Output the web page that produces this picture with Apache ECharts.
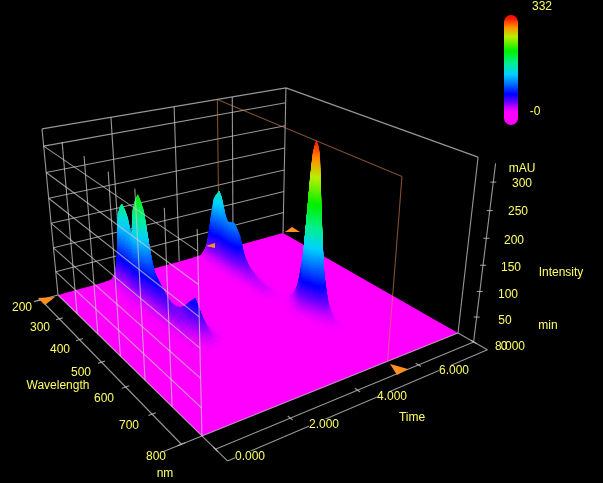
<!DOCTYPE html>
<html><head><meta charset="utf-8">
<style>html,body{margin:0;padding:0;background:#000}#c{width:603px;height:483px}</style>
<script src="https://cdn.jsdelivr.net/npm/echarts@6/dist/echarts.min.js"></script>
</head><body><div id="c"></div>
<script>
// ---------- data ----------
const timeTicks = [0, 2, 4, 6, 8];
const wavelengthTicks = [200, 300, 400, 500, 600, 700, 800];
const intensityTicks = [50, 100, 150, 200, 250, 300];
const intensityMax = 332;
const cursorTime = 5.47;

const times1 = [1.3,1.45,1.6,1.7,1.79,1.87,1.95,2.05,2.15,2.25,2.4,2.6,2.85];
const waves1 = [200,215,230,240,248,258,270,285,300,312,325,335,350,370,390,410,430,450,470,490,510,530,550,575];
const table1 = [
[0,0,0,2,7,8,7,5,3,2,1,0,0],
[0,0,2,10,32,35,31,21,12,7,2,1,0],
[0,1,6,30,92,100,90,60,35,20,7,2,0],
[0,2,10,50,154,168,151,101,59,34,11,3,0],
[0,2,10,53,161,175,158,105,62,35,12,3,0],
[0,2,10,50,154,168,150,101,58,34,11,3,0],
[0,1,7,37,112,122,110,73,43,24,9,2,0],
[0,1,8,38,118,128,115,77,45,26,9,3,0],
[0,1,8,41,124,135,122,81,47,27,9,3,0],
[0,2,12,59,184,200,179,120,70,40,14,4,0],
[0,2,13,65,199,216,194,130,76,43,15,4,0],
[0,2,13,63,191,207,187,124,72,41,14,4,0],
[0,1,7,36,110,120,108,72,42,24,8,2,0],
[0,1,5,26,78,85,77,51,30,17,6,2,0],
[0,1,4,21,64,70,63,43,26,15,5,1,0],
[0,1,3,16,50,55,50,35,22,13,4,1,0],
[0,0,3,12,38,42,39,30,25,16,5,1,0],
[0,0,2,10,32,36,34,30,30,20,7,1,0],
[0,0,2,8,26,30,31,34,42,30,11,2,0],
[0,0,1,7,22,27,32,45,58,41,15,3,0],
[0,0,1,5,16,20,27,50,72,50,18,4,0],
[0,0,0,3,8,10,17,32,46,33,12,3,0],
[0,0,0,1,3,4,8,16,24,18,7,2,0],
[0,0,0,0,0,0,0,0,0,0,0,0,0]];

const times2 = [4.5,4.65,4.78,4.87,4.94,5.0,5.07,5.17,5.29,5.42,5.57];
const waves2 = [200,215,230,245,260,275,290,305,320,335,350,370,390,410,430,450,470,490];
const table2 = [
[0,0,1,6,10,10,9,6,3,1,0],
[0,1,4,21,34,35,32,19,9,3,0],
[0,2,10,57,92,95,87,53,23,8,0],
[0,3,15,88,140,146,135,80,36,11,0],
[0,3,16,96,153,160,147,88,40,13,0],
[0,2,12,74,119,123,113,68,31,10,0],
[0,2,10,62,100,104,96,57,26,8,0],
[0,2,11,64,102,106,98,58,27,8,0],
[0,2,11,66,106,110,101,61,28,9,0],
[0,2,10,57,91,95,87,52,24,8,0],
[0,1,6,35,56,58,53,32,15,5,0],
[0,1,4,22,35,36,33,20,9,3,0],
[0,1,3,16,25,26,24,14,7,2,0],
[0,0,2,10,15,16,15,9,4,1,0],
[0,0,2,9,15,16,14,9,4,1,0],
[0,0,1,5,9,9,8,5,2,1,0],
[0,0,0,2,3,3,3,2,1,0,0],
[0,0,0,0,0,0,0,0,0,0,0]];

const times3 = [4.9,5.05,5.18,5.28,5.36,5.42,5.47,5.52,5.58,5.66,5.76,5.9,6.1];
const waves3 = [470,490,510,525,540,550,556,560,566,575,590,605,620,640,660];
const table3 = [
[0,0,0,0,0,0,0,0,0,0,0,0,0],
[0,0,1,2,4,5,5,5,4,2,1,0,0],
[0,0,2,7,16,21,22,21,16,7,2,0,0],
[0,1,6,17,40,53,55,53,39,16,5,1,0],
[0,3,14,42,101,134,140,135,100,41,14,3,0],
[0,5,27,81,194,259,270,260,195,80,27,5,0],
[0,6,32,97,232,309,322,310,231,96,32,6,0],
[0,7,33,100,239,319,332,318,240,99,33,7,0],
[0,6,32,96,231,310,323,309,232,97,32,6,0],
[0,5,24,72,173,230,240,231,172,71,24,5,0],
[0,2,11,33,79,106,110,105,80,33,11,2,0],
[0,1,5,15,36,48,50,48,36,15,5,1,0],
[0,0,2,5,13,17,18,17,13,5,2,0,0],
[0,0,0,1,4,5,5,5,4,1,0,0,0],
[0,0,0,0,0,0,0,0,0,0,0,0,0]];

const timeLabels = ['0.000','2.000','4.000','6.000','8.000'];
const waveLabels = ['200','300','400','500','600','700','800'];
const intensityLabels = ['50','100','150','200','250','300'];
const colorFractions = [0,.04,.1,.19,.3,.4,.52,.65,.8,.9,1];
const colorNames = ['#ff00ff','#d000ff','#7000ff','#0000ff','#0070ff','#00d0ff','#00f090','#00f000','#b8f000','#ff9000','#ff1000'];

// ---------- layout ----------
const blocks = [[times3,waves3,table3],[times2,waves2,table2],[times1,waves1,table1]];
const cam = {a:272.4,b:96.4,c:58,d:-23,e:38.3,f:295,g:.1674,h:-.2355,s:.0796,vx:243,vy:2216};
const GRAY='#c8c8c8', BROWN='#d28250', YEL='#ffff66';
function projUV(u,v,q){ const k=cam.s*q, w=cam.g*u+cam.h*v+1-k;
  return [(cam.a*u+cam.b*v+cam.c-k*cam.vx)/w,(cam.d*u+cam.e*v+cam.f-k*cam.vy)/w]; }
const U=t=>t/8, V=w=>(w-200)/600, Q=z=>z/intensityMax;
const rgb=c=>[parseInt(c.substr(1,2),16),parseInt(c.substr(3,2),16),parseInt(c.substr(5,2),16)];
const rgbs=colorNames.map(rgb);
function colorOf(fr){ fr=Math.max(0,Math.min(1,fr)); let i=0; while(i<colorFractions.length-2&&fr>colorFractions[i+1])i++;
  const m=(fr-colorFractions[i])/(colorFractions[i+1]-colorFractions[i]),A=rgbs[i],B=rgbs[i+1];
  return 'rgb('+Math.round(A[0]+(B[0]-A[0])*m)+','+Math.round(A[1]+(B[1]-A[1])*m)+','+Math.round(A[2]+(B[2]-A[2])*m)+')'; }

function line(api,p,q,color,op,w,z2){ const a=api.coord(p),b=api.coord(q);
  return {type:'line',z2:z2||0,shape:{x1:a[0],y1:a[1],x2:b[0],y2:b[1]},style:{stroke:color,opacity:op,lineWidth:w||1.1}}; }
function text(str,x,y,z2){ return {type:'text',z2:z2||10,style:{text:str,x:x,y:y,fill:YEL,font:'12px "Liberation Sans"',align:'center',verticalAlign:'middle',backgroundColor:'#000'}}; }
function text0(str,x,y,z2){ return {type:'text',z2:z2||10,style:{text:str,x:x,y:y,fill:YEL,font:'12px "Liberation Sans"',align:'center',verticalAlign:'middle'}}; }

function renderBack(p,api){ const ch=[]; const L=(a,b,op)=>ch.push(line(api,a,b,GRAY,op||.75));
  // wall at wavelength 200 and open wall at time 8
  L(projUV(0,0,1),projUV(1,0,1)); L(projUV(1,0,1),projUV(1,1,1));
  L(projUV(0,0,0),projUV(0,0,1)); L(projUV(1,0,0),projUV(1,0,1));
  L(projUV(1,1,0),projUV(1,1,1));
  timeTicks.slice(1,-1).forEach(t=>L(projUV(U(t),0,0),projUV(U(t),0,1)));
  intensityTicks.forEach(z=>L(projUV(0,0,Q(z)),projUV(1,0,Q(z))));
  ch.push(line(api,projUV(U(cursorTime),0,0),projUV(U(cursorTime),0,1),BROWN,.6));
  // floor
  const floor=[[0,0],[1,0],[1,1],[0,1]].map(c=>api.coord(projUV(c[0],c[1],0)));
  ch.push({type:'polygon',z2:1,shape:{points:floor},style:{fill:'#ff00ff'}});
  return {type:'group',children:ch};
}
const cells=[]; blocks.forEach((b,k)=>{ for(let j=0;j<b[1].length-1;j++) for(let i=b[0].length-2;i>=0;i--){
  const T=b[2]; if(T[j][i]+T[j][i+1]+T[j+1][i]+T[j+1][i+1]>0) cells.push([k,i,j]); }});
function renderCell(p,api){ const [T,W,Z]=blocks[api.value(0)],i=api.value(1),j=api.value(2);
  const z00=Z[j][i],z10=Z[j][i+1],z01=Z[j+1][i],z11=Z[j+1][i+1];
  const nt=Math.max(1,Math.min(14,Math.ceil(Math.max(Math.abs(z10-z00),Math.abs(z11-z01))/6)));
  const nw=Math.max(1,Math.min(14,Math.ceil(Math.max(Math.abs(z01-z00),Math.abs(z11-z10))/6)));
  const ch=[]; const zAt=(a,b)=>(z00*(1-a)+z10*a)*(1-b)+(z01*(1-a)+z11*a)*b;
  const pt=(a,b)=>api.coord(projUV(U(T[i]+(T[i+1]-T[i])*a),V(W[j]+(W[j+1]-W[j])*b),Q(zAt(a,b))));
  for(let y=0;y<nw;y++) for(let x=nt-1;x>=0;x--){
    const a0=x/nt,a1=(x+1)/nt,b0=y/nw,b1=(y+1)/nw;
    const c=colorOf(Q((zAt(a0,b0)+zAt(a1,b0)+zAt(a0,b1)+zAt(a1,b1))/4));
    ch.push({type:'polygon',z2:p.dataIndex+2,shape:{points:[pt(a0,b0),pt(a1,b0),pt(a1,b1),pt(a0,b1)]},style:{fill:c,stroke:c,lineWidth:.5}});
  }
  return {type:'group',children:ch};
}
function renderFront(p,api){ const ch=[]; const L=(a,b,op)=>ch.push(line(api,a,b,GRAY,op||.75));
  // open wall at time 0
  wavelengthTicks.slice(1).forEach(w=>L(projUV(0,V(w),0),projUV(0,V(w),1)));
  intensityTicks.forEach(z=>L(projUV(0,0,Q(z)),projUV(0,1,Q(z))));
  // floor borders and axes
  L(projUV(0,0,0),projUV(0,1,0)); L(projUV(0,1,0),projUV(1,1,0));
  const tv=1.07, ov=1.13, wu=-.065;
  L(projUV(0,tv,0),projUV(1,tv,0)); L(projUV(0,ov,0),projUV(1,ov,0));
  L(projUV(0,1,0),projUV(0,ov,0)); L(projUV(1,1,0),projUV(1,ov,0));
  L(projUV(wu,0,0),projUV(wu,1,0));
  L(projUV(0,0,0),projUV(-.09,0,0)); L(projUV(0,1,0),projUV(-.12,1,0));
  L(projUV(1,tv,0),projUV(1,tv,1));
  timeTicks.forEach(t=>L(projUV(U(t),tv-.012,0),projUV(U(t),tv+.012,0)));
  wavelengthTicks.forEach(w=>L(projUV(wu-.012,V(w),0),projUV(wu+.012,V(w),0)));
  intensityTicks.forEach(z=>{const a=projUV(1,tv,Q(z));L([a[0]-3,a[1]],[a[0]+3,a[1]]);});
  // cursor plane
  const ut=U(cursorTime);
  ch.push(line(api,projUV(ut,0,1),projUV(ut,1,1),BROWN,.6));
  ch.push(line(api,projUV(ut,1,0),projUV(ut,1,1),BROWN,.6));
  // cursor markers
  const tri=pts=>ch.push({type:'polygon',z2:5,shape:{points:pts.map(q=>api.coord(q))},style:{fill:'#ff9020'}});
  tri([[38,298],[55,297],[45,305]]); tri([[390,364],[408,369],[397,375]]);
  tri([[285,232],[300,232],[292,227]]); tri([[206,246],[215,243],[215,248]]);
  return {type:'group',children:ch};
}
const timeLabelPos=[[250,457],[324,425],[392,397],[454,371],[510,347]];
const waveLabelPos=[[22,308],[40,328],[60,350],[81,373],[104,399],[129,426],[156,457]];
const intensityLabelPos=[[505,321],[508,295],[511,268],[514,241],[518,212],[522,184]];
function renderText(p,api){ const ch=[];
  timeLabels.forEach((s,i)=>ch.push(i<4?text(s,timeLabelPos[i][0],timeLabelPos[i][1]):text0(s,timeLabelPos[i][0],timeLabelPos[i][1])));
  waveLabels.forEach((s,i)=>ch.push(text0(s,waveLabelPos[i][0],waveLabelPos[i][1])));
  intensityLabels.forEach((s,i)=>ch.push(text0(s,intensityLabelPos[i][0],intensityLabelPos[i][1])));
  ch.push(text0('0',504,347,11));
  ch.push(text0('mAU',522,169)); ch.push(text0('Intensity',561,273)); ch.push(text0('min',548,326));
  ch.push(text0('Time',412,418)); ch.push(text0('Wavelength',58,386)); ch.push(text0('nm',165,474));
  ch.push(text0(String(intensityMax),542,7)); ch.push(text0('-0',535,112));
  const stops=[{offset:0,color:colorOf(1)}];
  for(let i=colorFractions.length-1;i>=0;i--) stops.push({offset:(97-94*colorFractions[i])/110,color:colorNames[i]});
  stops.push({offset:1,color:'#ff00ff'});
  ch.push({type:'rect',z2:10,shape:{x:504,y:15,width:14,height:110,r:7},style:{fill:new echarts.graphic.LinearGradient(0,0,0,1,stops)}});
  return {type:'group',children:ch};
}
const custom=(name,z,data,fn)=>({type:'custom',name,z,coordinateSystem:'cartesian2d',data,renderItem:fn,silent:true,animation:false,clip:false,encode:{x:0,y:1},progressive:0});
const chart=echarts.init(document.getElementById('c'),null,{renderer:'canvas'});
chart.setOption({
  backgroundColor:'#000',animation:false,tooltip:{show:false},
  grid:{left:0,right:0,top:0,bottom:0},
  xAxis:{type:'value',min:0,max:603,show:false},
  yAxis:{type:'value',min:0,max:483,inverse:true,show:false},
  series:[
    custom('walls',1,[[0,0]],renderBack),
    custom('surface',2,cells,renderCell),
    custom('frame',3,[[0,0]],renderFront),
    custom('labels',4,[[0,0]],renderText)
  ]
});
</script></body></html>
